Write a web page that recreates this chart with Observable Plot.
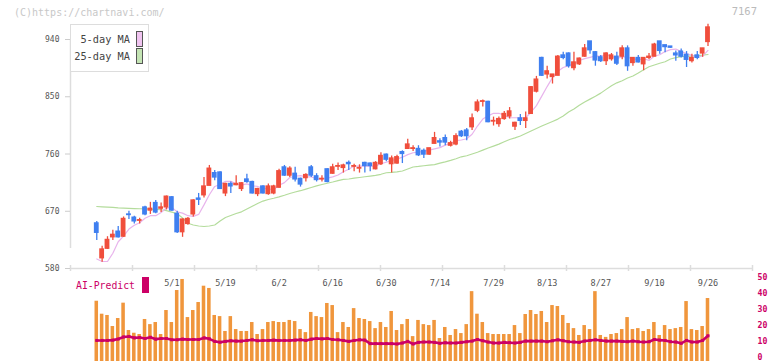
<!DOCTYPE html>
<html><head><meta charset="utf-8">
<script src="https://cdn.jsdelivr.net/npm/d3@7"></script>
<script src="https://cdn.jsdelivr.net/npm/@observablehq/plot@0.6"></script>
<style>
html,body{margin:0;padding:0;background:#fff;}
#wrap{position:relative;width:772px;height:361px;overflow:hidden;font-family:"DejaVu Sans Mono",monospace;}
#wrap svg{position:absolute;left:0;top:0;}
.t{position:absolute;white-space:nowrap;}
</style></head><body>
<div id="wrap"></div>
<script>
// ---- data (daily candles, 2025-04-10 .. 2025-09-26) ----
const open = [651,596,611,629,638,630,665,660,655,676, 671,683,674,676,692,666,637,650,665,690,
  695,710,730,731,698,713,711,705,720,716, 697,709,697,698,707,739,726,729,721,722,
  739,725,720,736,729,740,738,746,740,737, 746,745,736,744,759,744,745,763,768,768,
  768,765,759,776,780,785,773,775,795,797, 802,828,842,842,811,807,815,819,803,816,
  812,823,858,911,885,881,883,915,918,895, 901,913,937,920,912,906,909,913,913,926,
  903,911,901,911,913,937,931,929,918,921, 916,906,915,918,936];
const high = [654,615,630,640,646,661,670,662,659,678, 684,687,683,694,693,670,658,660,688,698,
  723,742,734,732,714,716,726,715,728,717, 706,710,713,711,736,742,740,739,722,729,
  742,729,726,737,744,746,744,749,744,743, 747,746,748,762,760,757,758,765,783,773,
  773,768,769,794,784,790,780,792,797,800, 823,845,845,843,818,818,827,833,810,822,
  826,866,882,912,898,885,915,920,919,920, 911,932,937,921,915,919,918,920,930,930,
  911,915,911,918,934,937,931,929,922,925, 921,917,921,926,964];
const low = [624,590,610,624,628,629,657,650,650,663, 665,666,668,672,670,635,629,648,661,679,
  691,710,718,704,693,698,710,701,714,697, 693,697,695,696,706,725,723,716,708,716,
  723,716,716,715,728,734,730,734,732,730, 730,732,735,742,748,730,744,745,767,764,
  756,753,758,776,771,773,771,773,786,781, 797,825,834,809,804,802,813,815,797,805,
  800,822,856,882,878,870,883,908,895,891, 899,912,917,898,904,899,906,899,908,890,
  898,903,891,908,913,917,919,926,906,911, 896,903,908,912,929];
const close = [636,610,625,633,629,658,664,654,656,665, 674,668,676,693,671,637,657,658,687,688,
  709,737,723,705,713,709,713,714,716,698, 705,698,709,709,733,726,737,720,712,727,
  726,719,721,716,739,741,742,744,741,738, 741,741,746,757,751,753,755,760,775,769,
  758,759,769,785,778,778,777,788,788,788, 816,841,843,810,812,815,823,827,809,812,
  816,865,877,883,890,885,913,911,898,904, 910,926,923,907,906,918,915,902,926,898,
  911,904,911,913,932,922,928,927,915,913, 908,911,911,926,959];
const ma5 = [595,591,591,604,622,631,642,648,652,659, 663,663,668,675,676,669,667,663,662,665,
  680,696,709,712,717,717,713,711,713,710, 709,706,705,704,711,715,723,725,726,724,
  724,721,721,722,724,727,732,736,741,741, 741,741,741,745,747,750,752,755,759,762,
  763,764,766,768,770,774,777,781,782,784, 791,804,815,820,824,824,821,817,817,817,
  817,826,836,851,866,880,890,896,899,902, 907,910,912,914,914,916,914,910,913,912,
  910,908,910,907,914,916,921,924,925,921, 918,915,912,914,923];
const ma25 = [677.5,677,676.5,676,675.4,675,674.6,674.2,673.9,673.6, 673.2,672.8,672.4,670.9,668.7,666.2,659.4,651.1,648.4,646.8,
  646,646.8,648.4,654.5,660.2,663.3,666.5,669.1,673.4,677.8, 682.2,686,688.5,690.4,692.6,695.1,697.9,700.3,702.3,704.8,
  707.3,709.9,712,714,716,718.2,720,720.7,722,723.1, 724.2,725.3,726.5,728.1,730.5,731.1,732,733.3,736.4,739.6,
  740.4,741.5,742.4,743.2,745.6,747.7,750,752.6,755.6,757.3, 760,762.8,766.1,769.4,772.4,775.6,779.2,782.8,785.3,788.3,
  792.2,796.2,800.1,803.9,807.5,811.1,814.9,819.6,825.9,830.6, 836.6,841.7,846.3,850.7,855.7,861.6,867.4,871.9,875.2,879.5,
  882.6,887.3,892.5,897.1,899.9,902.6,905,909.3,911.4,913, 913.6,914.2,914.8,915.5,916.4];
const volume = [35.6,27.5,26.7,19.8,24.8,34.4,17.3,15.6,14.8,24.2, 21,22.3,14.8,29.8,22.3,42.3,49.2,25.4,29.8,34.8,
  45,43.6,26.7,26,16.7,26,17.9,16.7,16.7,22.3, 14.8,17.9,22.3,22.9,22.3,22.3,23.6,22.9,17.9,16,
  28.6,26,25.4,34.2,32.9,16,22.3,19.2,31,24.8, 24.2,22.9,18.5,22.3,19.2,29.2,17.3,21,24.2,13.5,
  23.6,21,20.4,23.6,12.3,19.2,14.2,17.9,15.4,21, 41.6,27.5,22.3,15.4,14.8,14.8,14.8,14.8,20.4,15.4,
  27.3,29.8,27.3,29.2,22.3,32.9,32.3,26.7,21.7,18.5, 14.2,20.4,17.9,41.6,14.2,13,14.8,15.4,17.9,25.4,
  17.9,18.5,16.7,17.9,22.3,14.2,20.4,17.9,18.5,19.2, 35.4,17.9,17.3,19.8,37.3];
const aiPredict = [11.1,11.1,11.1,11.3,12.0,13.3,13.6,12.7,12.9,12.3, 13.1,11.9,12.3,12.3,11.5,11.5,11.9,11.7,11.7,11.7,
  12.7,12.1,10.5,10.0,10.5,10.9,10.7,10.7,11.1,11.5, 10.9,11.1,11.1,11.3,11.1,11.1,11.1,11.3,11.5,11.1,
  11.9,12.3,12.1,12.3,11.7,11.5,11.1,10.5,11.1,11.5, 11.3,9.1,9.1,9.1,9.1,9.1,8.9,9.5,10.5,8.9,
  9.9,10.1,10.1,9.9,9.3,9.7,9.5,9.5,9.9,10.3, 10.7,11.7,10.9,10.1,9.5,9.5,9.9,9.7,9.5,9.9,
  10.7,10.7,10.7,10.7,10.3,10.9,11.5,10.9,10.3,10.1, 9.9,10.7,11.1,11.5,11.1,10.7,10.7,10.7,10.5,10.3,
  10.7,10.3,10.1,10.3,11.7,11.3,11.1,10.3,10.1,9.3, 11.1,10.1,10.1,11.1,14.0];
const dateLabels = ["5/1","5/19","6/2","6/16","6/30","7/14","7/29","8/13","8/27","9/10","9/26"];
const dateLabelIndex = [14,24,34,44,54,64,74,84,94,104,114];
const priceTicks = [580,670,760,850,940];
const predictTicks = [0,10,20,30,40,50];

// ---- build ----
const RED = "#f04e3c", BLUE = "#3f7ff0";
const xLo = -4.9, xHi = 122.3;
const gridTicks = d3.range(12).map(k => xLo + k * (xHi - xLo) / 11);
const idx = d3.range(close.length);
const candles = idx.map(i => ({i, o: open[i], h: high[i], l: low[i], c: close[i],
  col: close[i] >= open[i] ? RED : BLUE}));
const font = "DejaVu Sans Mono";

const mainSvg = Plot.plot({
  width: 772, height: 361,
  marginLeft: 70, marginRight: 20, marginTop: 39, marginBottom: 93,
  x: {domain: [xLo, xHi], axis: null},
  y: {domain: [580, 940], axis: null},
  style: {background: "transparent", fontFamily: font},
  marks: [
    Plot.ruleX([xLo], {y1: 580, y2: 940, insetTop: -20, stroke: "#ddd", strokeWidth: 1.5}),
    Plot.ruleY([580], {stroke: "#ddd", strokeWidth: 1.5}),
    Plot.ruleX(gridTicks, {y1: 580, y2: 580, insetTop: -3, insetBottom: -3, stroke: "#ddd", strokeWidth: 1.5}),
    Plot.axisY({ticks: priceTicks, anchor: "left", tickSize: 5, tickPadding: 6, fontSize: 8,
      stroke: "#ccc", fill: "#555", tickFormat: d => String(d)}),
    Plot.line(idx, {x: i => i, y: i => ma25[i], stroke: "#b4dc9c", strokeWidth: 1.2}),
    Plot.line(idx, {x: i => i, y: i => ma5[i], stroke: "#e8b4ec", strokeWidth: 1.2}),
    Plot.ruleX(candles, {x: "i", y1: "l", y2: "h", stroke: "col", strokeWidth: 1.3}),
    Plot.rect(candles, {x1: d => d.i - 0.45, x2: d => d.i + 0.45, y1: "o", y2: "c", fill: "col",
      insetTop: -0.6, insetBottom: -0.6})
  ]
});

const subSvg = Plot.plot({
  width: 772, height: 361,
  marginLeft: 70, marginRight: 20, marginTop: 277.7, marginBottom: 3.3,
  x: {domain: [xLo, xHi], axis: null},
  y: {domain: [0, 50], axis: null},
  style: {background: "transparent", fontFamily: font},
  marks: [
    Plot.rect(idx, {x1: i => i - 0.33, x2: i => i + 0.33, y1: 0, y2: i => volume[i], fill: "#f0963c", insetBottom: -3.5}),
    Plot.line(idx, {x: i => i, y: i => aiPredict[i], stroke: "#cc0066", strokeWidth: 2.6}),
    Plot.dot(idx, {x: i => i, y: i => aiPredict[i], symbol: "square", r: 1.7, fill: "#cc0066"}),
    Plot.axisY({ticks: predictTicks, anchor: "right", tickSize: 0, tickPadding: 5, fontSize: 8.2, dy: -0.8,
      fill: "#cc0066", fontWeight: "bold"}),
    Plot.text(dateLabels, {x: (d, k) => dateLabelIndex[k], frameAnchor: "top", lineAnchor: "middle", dy: 5.5,
      fontSize: 8.5, fill: "#555"})
  ]
});

const wrap = document.getElementById("wrap");
wrap.append(subSvg, mainSvg);

function addText(txt, css) {
  const d = document.createElement("div");
  d.className = "t"; d.textContent = txt;
  Object.assign(d.style, css);
  wrap.append(d);
  return d;
}
function addBox(css) {
  const d = document.createElement("div");
  d.style.position = "absolute"; d.style.boxSizing = "border-box";
  Object.assign(d.style, css);
  wrap.append(d);
}
addText("(C)https://chartnavi.com/", {left: "14px", top: "7px", fontSize: "10px", lineHeight: "11px", color: "#c8c8c8"});
addText("7167", {right: "15px", top: "6px", fontSize: "10.5px", lineHeight: "11px", color: "#bbb"});
// legend
addBox({left: "70px", top: "24px", width: "79px", height: "48px", border: "1px solid #ddd", background: "#fff"});
addText("5-day MA", {right: "642px", top: "34px", fontSize: "10.3px", lineHeight: "11px", color: "#444"});
addText("25-day MA", {right: "642px", top: "51px", fontSize: "10.3px", lineHeight: "11px", color: "#444"});
addBox({left: "136px", top: "31px", width: "7px", height: "16px", border: "1px solid #555", background: "#f0c4f0"});
addBox({left: "136px", top: "48px", width: "7px", height: "16px", border: "1px solid #555", background: "#c4e4b4"});
// AI-Predict label
addText("AI-Predict", {left: "76px", top: "280px", fontSize: "9.8px", lineHeight: "11px", color: "#cc0066"});
addBox({left: "142px", top: "277px", width: "7px", height: "16px", background: "#cc0066"});
</script></body></html>
